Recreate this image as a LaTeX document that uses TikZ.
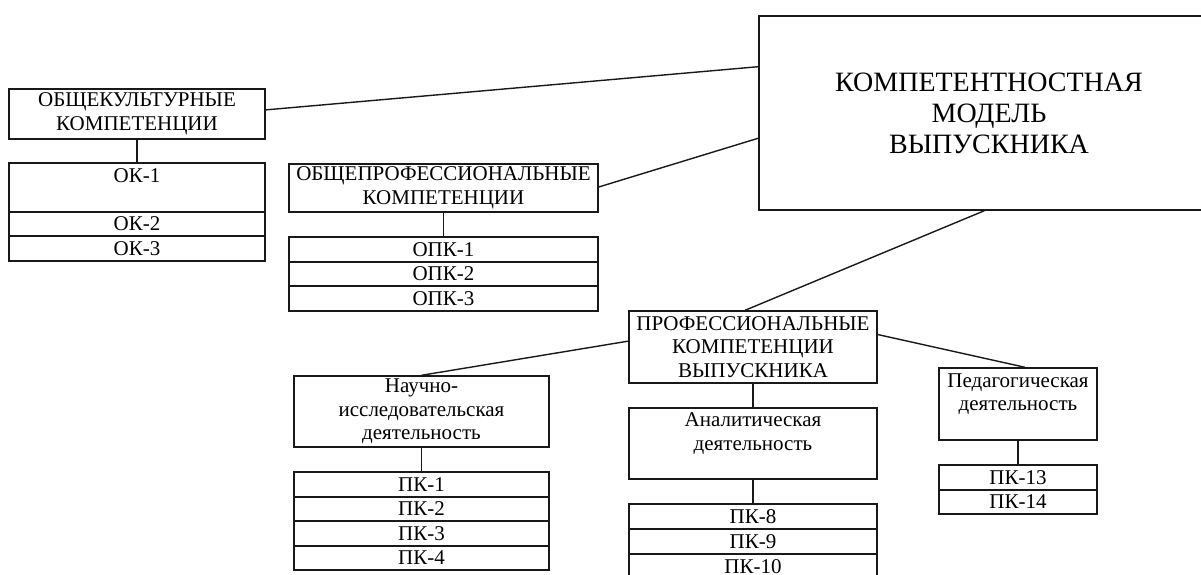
\documentclass[tikz,border=0pt]{standalone}
\usepackage{fontspec}
\setmainfont{Liberation Serif}
\usetikzlibrary{calc}
\newlength{\du}
\setlength{\du}{0.5pt}
\definecolor{dialinecolor}{rgb}{0.100000, 0.100000, 0.100000}
\tikzset{
  blok/.style={draw=dialinecolor, rectangle, inner sep=0pt, align=center,
    font=\fontsize{10.5pt}{11.75pt}\selectfont},
  blokbig/.style={blok, font=\fontsize{14pt}{15.5pt}\selectfont},
  svaz/.style={draw=dialinecolor},
}
\begin{document}
\begin{tikzpicture}[line width=0.7pt]
\pgftransformxscale{1.000000}
\pgftransformyscale{-1.000000}
\clip (0\du,0\du) rectangle (1201\du,574\du);
% model
\node[blokbig, minimum width=460\du, minimum height=194\du] (model) at (989\du,113\du){КОМПЕТЕНТНОСТНАЯ\\МОДЕЛЬ\\ВЫПУСКНИКА};
% obshchekulturnye
\node[blok, minimum width=256\du, minimum height=50\du] (ok) at (137\du,114\du){ОБЩЕКУЛЬТУРНЫЕ\\КОМПЕТЕНЦИИ};
\node[blok, minimum width=256\du, minimum height=49\du] (ok1) at (137\du,187.5\du){ОК-1\\\mbox{}};
\node[blok, minimum width=256\du, minimum height=24\du] (ok2) at (137\du,224\du){ОК-2};
\node[blok, minimum width=256\du, minimum height=25\du] (ok3) at (137\du,248.5\du){ОК-3};
\draw[svaz] (ok.south)--(ok1.north);
\draw[svaz] ($(ok.north east)!0.42!(ok.south east)$)--($(model.north west)!0.263!(model.south west)$);
% obshcheprofessionalnye
\node[blok, minimum width=309\du, minimum height=48\du] (opk) at (443.5\du,188\du){ОБЩЕПРОФЕССИОНАЛЬНЫЕ\\КОМПЕТЕНЦИИ};
\node[blok, minimum width=309\du, minimum height=25\du] (opk1) at (443.5\du,249.5\du){ОПК-1};
\node[blok, minimum width=309\du, minimum height=24\du] (opk2) at (443.5\du,274\du){ОПК-2};
\node[blok, minimum width=309\du, minimum height=25\du] (opk3) at (443.5\du,298.5\du){ОПК-3};
\draw[svaz] (opk.south)--(opk1.north);
\draw[svaz] ($(opk.north east)!0.48!(opk.south east)$)--($(model.north west)!0.629!(model.south west)$);
% professionalnye
\node[blok, minimum width=248\du, minimum height=72\du] (pk) at (753\du,347\du){ПРОФЕССИОНАЛЬНЫЕ\\КОМПЕТЕНЦИИ\\ВЫПУСКНИКА};
\draw[svaz] ($(model.south west)!0.49!(model.south east)$)--($(pk.north west)!0.468!(pk.north east)$);
% nauchno-issledovatelskaya
\node[blok, minimum width=255\du, minimum height=71\du] (nauch) at (421.5\du,411.5\du){Научно-\\исследовательская\\деятельность};
\node[blok, minimum width=255\du, minimum height=25\du] (pk1) at (421.5\du,484.5\du){ПК-1};
\node[blok, minimum width=255\du, minimum height=24\du] (pk2) at (421.5\du,509\du){ПК-2};
\node[blok, minimum width=255\du, minimum height=25\du] (pk3) at (421.5\du,533.5\du){ПК-3};
\node[blok, minimum width=255\du, minimum height=24\du] (pk4) at (421.5\du,558\du){ПК-4};
\draw[svaz] ($(pk.north west)!0.42!(pk.south west)$)--(nauch.north);
\draw[svaz] (nauch.south)--(pk1.north);
% analiticheskaya
\node[blok, minimum width=248\du, minimum height=71\du] (anal) at (753\du,443.5\du){Аналитическая\\деятельность\\\mbox{}};
\node[blok, minimum width=248\du, minimum height=25\du] (pk8) at (753\du,516.5\du){ПК-8};
\node[blok, minimum width=248\du, minimum height=25\du] (pk9) at (753\du,541.5\du){ПК-9};
\node[blok, minimum width=248\du, minimum height=25\du] (pk10) at (753\du,566.5\du){ПК-10};
\draw[svaz] (pk.south)--(anal.north);
\draw[svaz] (anal.south)--(pk8.north);
% pedagogicheskaya
\node[blok, minimum width=158\du, minimum height=72\du] (ped) at (1018\du,404\du){Педагогическая\\деятельность\\\mbox{}};
\node[blok, minimum width=158\du, minimum height=25\du] (pk13) at (1018\du,477.5\du){ПК-13};
\node[blok, minimum width=158\du, minimum height=24\du] (pk14) at (1018\du,502\du){ПК-14};
\draw[svaz] ($(pk.north east)!0.33!(pk.south east)$)--($(ped.north west)!0.544!(ped.north east)$);
\draw[svaz] (ped.south)--(pk13.north);
\end{tikzpicture}
\end{document}
